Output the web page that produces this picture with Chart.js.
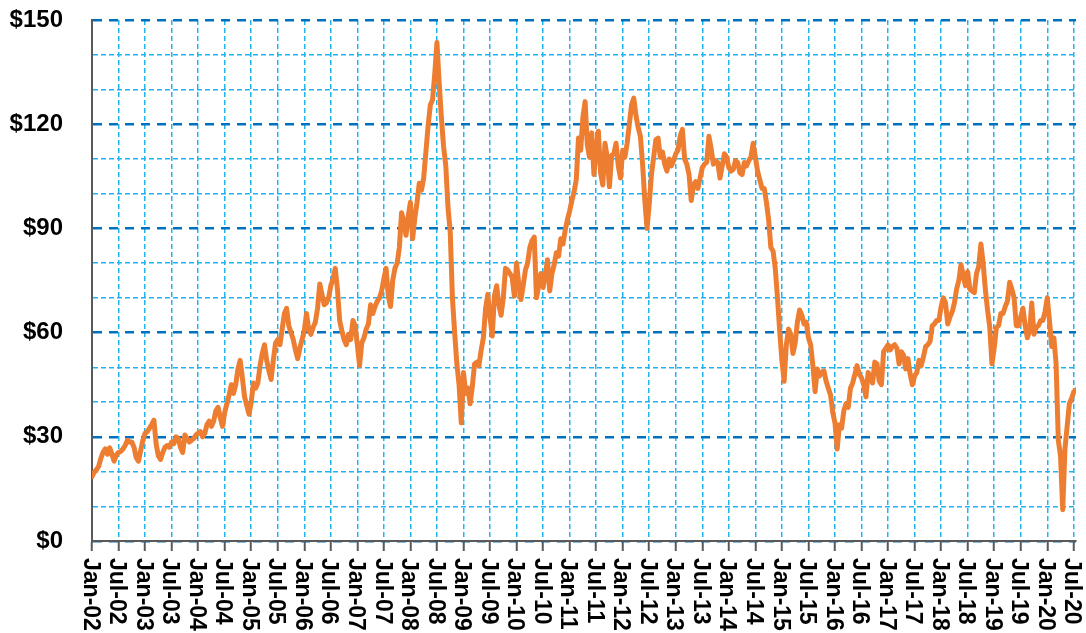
<!DOCTYPE html>
<html>
<head>
<meta charset="utf-8">
<script src="https://cdn.jsdelivr.net/npm/chart.js@4/dist/chart.umd.min.js"></script>
<style>
  html, body { margin: 0; padding: 0; background: #fff; }
  #wrap { width: 1086px; height: 633px; }
</style>
</head>
<body>
<div id="wrap"><canvas id="oilChart" width="1086" height="633"></canvas></div>
<script>
// Brent, $ per barrel, two readings a month (1st and 16th) from Jan-02
const prices = [
  18.5, 19.8, 20.5, 21.5, 23.8, 25.5, 26.5, 25.0, 26.8, 25.0, 23.0, 24.8, 25.5, 25.8, 26.5, 27.5, 29.0, 28.5, 28.5, 27.0, 24.0, 23.0, 26.0, 29.0,
  31.0, 31.5, 32.5, 33.5, 34.8, 28.0, 24.5, 23.5, 25.5, 27.0, 27.5, 27.0, 28.5, 28.0, 30.0, 29.5, 27.0, 25.5, 30.5, 29.5, 28.5, 29.0, 29.5, 30.5,
  31.0, 31.5, 30.0, 31.0, 33.5, 34.5, 33.0, 34.5, 37.5, 38.5, 35.5, 33.0, 37.0, 39.5, 42.0, 45.0, 42.5, 45.0, 49.5, 52.0, 47.0, 41.5, 39.0, 36.5,
  40.0, 45.5, 44.0, 45.5, 50.5, 54.0, 56.5, 52.0, 49.0, 46.5, 52.0, 57.0, 58.0, 56.5, 61.0, 65.5, 67.0, 62.0, 60.0, 58.0, 55.0, 52.5, 55.5, 58.0,
  60.5, 65.5, 61.0, 59.5, 61.5, 63.0, 67.0, 74.0, 71.0, 68.0, 68.5, 70.0, 73.5, 75.5, 78.5, 72.5, 63.5, 60.5, 58.0, 56.5, 59.5, 58.0, 63.5, 62.0,
  56.5, 50.5, 57.0, 58.5, 61.0, 62.5, 68.0, 65.5, 67.5, 69.0, 70.0, 72.0, 75.5, 78.5, 70.5, 67.5, 75.0, 78.5, 80.0, 84.5, 94.5, 92.0, 88.0, 93.5,
  97.5, 87.0, 93.0, 97.5, 103.0, 101.0, 104.5, 112.0, 119.5, 125.5, 127.0, 134.5, 143.5, 132.0, 122.0, 113.5, 108.0, 96.0, 89.0, 70.0, 60.0, 51.0, 45.0, 34.0,
  48.5, 42.5, 44.0, 39.5, 44.5, 51.0, 51.5, 50.5, 55.0, 58.5, 67.0, 71.0, 64.5, 59.0, 70.5, 73.5, 68.0, 65.0, 70.0, 78.5, 78.0, 77.0, 76.0, 70.5,
  80.0, 74.0, 69.5, 73.5, 78.0, 80.0, 84.5, 86.5, 87.5, 70.0, 73.5, 77.0, 73.0, 76.5, 81.0, 72.0, 77.0, 79.5, 83.0, 82.0, 87.0, 85.5, 89.5, 92.5,
  95.0, 98.0, 100.5, 104.0, 116.0, 112.5, 122.0, 126.5, 114.0, 110.5, 117.5, 105.5, 113.0, 118.0, 106.0, 102.5, 114.5, 110.5, 102.0, 111.0, 111.5, 114.5, 108.0, 104.5,
  112.5, 110.5, 114.5, 120.0, 125.5, 127.5, 122.5, 119.0, 116.5, 108.5, 98.0, 90.0, 97.0, 105.5, 110.5, 115.5, 116.0, 110.5, 112.0, 108.5, 106.5, 110.0, 108.0, 109.5,
  111.5, 112.5, 116.5, 118.5, 110.0, 108.5, 105.5, 98.0, 102.5, 103.5, 101.5, 104.5, 107.5, 108.5, 109.0, 116.5, 113.0, 108.5, 109.5, 109.0, 104.5, 108.0, 111.5, 110.5,
  107.5, 106.5, 107.0, 109.5, 109.0, 106.0, 105.5, 109.0, 108.0, 109.5, 110.5, 114.5, 110.5, 106.5, 104.0, 101.5, 101.5, 97.5, 92.5, 84.5, 83.5, 78.5, 70.0, 60.5,
  52.0, 46.0, 56.5, 61.0, 59.5, 54.0, 57.0, 63.0, 66.5, 65.0, 62.5, 63.0, 58.5, 56.5, 50.5, 43.0, 49.5, 47.5, 48.5, 49.0, 46.0, 44.0, 42.0, 37.0,
  34.0, 26.5, 33.5, 32.5, 37.5, 39.5, 38.5, 44.0, 45.5, 48.0, 50.5, 48.0, 47.0, 45.0, 41.5, 48.5, 47.0, 45.5, 51.5, 51.0, 46.0, 45.0, 54.5, 55.5,
  56.5, 55.0, 56.0, 56.5, 55.5, 51.0, 54.5, 53.5, 49.5, 52.5, 48.0, 45.0, 47.5, 48.5, 52.0, 50.5, 53.0, 56.0, 56.5, 57.5, 62.0, 62.5, 63.5, 63.5,
  67.5, 70.0, 68.5, 62.5, 64.5, 66.0, 68.5, 72.5, 75.0, 79.5, 76.5, 73.5, 77.5, 72.5, 72.0, 71.5, 77.0, 79.0, 85.5, 80.0, 72.5, 66.5, 61.5, 51.0,
  55.5, 61.5, 62.0, 65.5, 65.5, 67.5, 69.0, 74.5, 72.5, 70.0, 62.0, 62.0, 64.5, 67.0, 62.0, 58.5, 60.5, 68.5, 59.5, 61.5, 62.0, 63.5, 63.5, 66.0,
  70.0, 63.5, 56.0, 58.5, 51.0, 29.0, 24.5, 9.0, 26.5, 33.0, 39.5, 41.0, 43.0, 43.5
]

const tickLabels = [
  'Jan-02', 'Jul-02', 'Jan-03', 'Jul-03', 'Jan-04', 'Jul-04', 'Jan-05', 'Jul-05',
  'Jan-06', 'Jul-06', 'Jan-07', 'Jul-07', 'Jan-08', 'Jul-08', 'Jan-09', 'Jul-09',
  'Jan-10', 'Jul-10', 'Jan-11', 'Jul-11', 'Jan-12', 'Jul-12', 'Jan-13', 'Jul-13',
  'Jan-14', 'Jul-14', 'Jan-15', 'Jul-15', 'Jan-16', 'Jul-16', 'Jan-17', 'Jul-17',
  'Jan-18', 'Jul-18', 'Jan-19', 'Jul-19', 'Jan-20', 'Jul-20'
]

const yMajor = 30 // labelled, dark dashed lines
const yMinor = 10

const points = []
for (let i = 0; i < prices.length; i++) {
  points.push({ x: i / 2, y: prices[i] }) // months since Jan-02
}

const lightBlue = '#1db4f0'
const darkBlue = '#0070c0'
const axisGrey = '#595959'

// x labels read top to bottom, so draw them ourselves at the scale's tick pixels
const xLabelPlugin = {
  id: 'xLabelPlugin',
  afterDraw (chart) {
    const ctx = chart.ctx
    const xs = chart.scales.x
    const top = chart.chartArea.bottom + 17
    ctx.save()
    ctx.font = 'bold 23px "Liberation Sans", Arial, sans-serif'
    ctx.fillStyle = '#000'
    ctx.textAlign = 'left'
    ctx.textBaseline = 'middle'
    xs.ticks.forEach(t => {
      const label = tickLabels[Math.round(t.value / 6)]
      if (!label) return
      const px = xs.getPixelForValue(t.value)
      ctx.save()
      ctx.translate(px - 2, top)
      ctx.rotate(Math.PI / 2)
      ctx.fillText(label, 0, 0)
      ctx.restore()
    })
    ctx.restore()
  }
}

new Chart(document.getElementById('oilChart'), {
  type: 'line',
  data: {
    datasets: [{
      data: points,
      borderColor: '#ed7d31',
      borderWidth: 5,
      borderJoinStyle: 'round',
      borderCapStyle: 'round',
      pointRadius: 0,
      tension: 0,
      fill: false
    }]
  },
  options: {
    responsive: false,
    animation: false,
    layout: { padding: { left: 0, top: 20, right: 10, bottom: 0 } },
    plugins: {
      legend: { display: false },
      tooltip: { enabled: false }
    },
    scales: {
      x: {
        type: 'linear',
        min: 0,
        max: 222.5,
        afterFit: (scale) => {
          scale.height = 92
          scale.paddingLeft = 0
          scale.paddingRight = 0
        },
        ticks: { display: false, stepSize: 6, includeBounds: false },
        grid: {
          color: lightBlue,
          lineWidth: 1.5,
          drawTicks: true,
          tickLength: 10,
          tickColor: axisGrey,
          tickWidth: 2,
          tickBorderDash: []
        },
        border: {
          color: axisGrey,
          width: 2,
          dash: (c) => c.tick ? [5, 3] : []
        }
      },
      y: {
        min: 0,
        max: 150,
        afterFit: (scale) => {
          scale.width = 92
          scale.paddingTop = 0
          scale.paddingBottom = 0
        },
        ticks: {
          stepSize: yMinor,
          padding: 29,
          color: '#000',
          font: { family: '"Liberation Sans", Arial, sans-serif', size: 24, weight: 'bold' },
          callback: (v) => v % yMajor === 0 ? '$' + v : ''
        },
        grid: {
          drawTicks: false,
          color: (c) => c.tick && c.tick.value % yMajor === 0 ? darkBlue : lightBlue,
          lineWidth: (c) => c.tick && c.tick.value % yMajor === 0 ? 2.5 : 1.5
        },
        border: {
          color: axisGrey,
          width: 2,
          dash: (c) => {
            if (!c.tick) return []
            return c.tick.value % yMajor === 0 ? [9, 7] : [5, 3]
          }
        }
      }
    }
  },
  plugins: [xLabelPlugin]
})
</script>
</body>
</html>
